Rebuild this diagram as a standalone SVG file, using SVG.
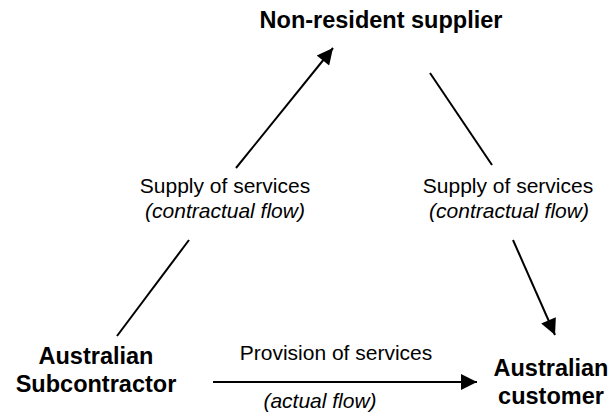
<svg xmlns="http://www.w3.org/2000/svg" width="609" height="415" viewBox="0 0 609 415">
<style>
.node{font-family:"Liberation Sans",Arial,sans-serif;font-weight:bold;font-size:23.5px;fill:#000;text-anchor:middle}
.lbl{font-family:"Liberation Sans",Arial,sans-serif;font-size:21px;fill:#000;text-anchor:middle}
.it{font-style:italic}
.ln{stroke:#000;stroke-width:2;fill:none}
</style>
<defs>
<marker id="ah" viewBox="0 0 10 10" refX="10" refY="5" markerWidth="18" markerHeight="16" markerUnits="userSpaceOnUse" orient="auto">
<path d="M0,0 L10,5 L0,10 Z" fill="#000"/>
</marker>
</defs>
<rect width="609" height="415" fill="#fff"/>
<g id="supplier"><text class="node" x="381" y="28">Non-resident supplier</text></g>
<g id="subcontractor"><text class="node" x="96" y="364">Australian</text><text class="node" x="96" y="392">Subcontractor</text></g>
<g id="customer"><text class="node" x="551" y="376">Australian</text><text class="node" x="551" y="404">customer</text></g>
<g id="connectors">
<line class="ln" x1="117" y1="336" x2="189" y2="240"/>
<line class="ln" x1="236" y1="168" x2="333" y2="48" marker-end="url(#ah)"/>
<line class="ln" x1="430" y1="73" x2="492" y2="165"/>
<line class="ln" x1="513" y1="240" x2="555" y2="335" marker-end="url(#ah)"/>
<line class="ln" x1="213" y1="382" x2="477" y2="382" marker-end="url(#ah)"/>
<text class="lbl" x="225" y="193">Supply of services</text>
<text class="lbl it" x="225" y="218">(contractual flow)</text>
<text class="lbl" x="508" y="193">Supply of services</text>
<text class="lbl it" x="509" y="218">(contractual flow)</text>
<text class="lbl" x="336" y="360">Provision of services</text>
<text class="lbl it" x="320" y="408">(actual flow)</text>
</g>
</svg>
